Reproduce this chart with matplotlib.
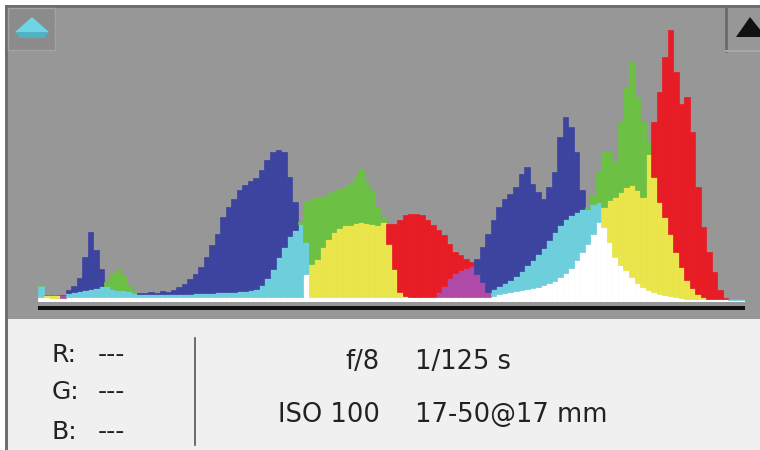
"""Camera Raw style RGB histogram panel."""

import matplotlib.pyplot as plt
import numpy as np
from matplotlib.patches import Polygon, Rectangle

# histogram bins (2 levels per bin, 0..255) and per-channel counts
levels = np.arange(0, 256, 2)

red = [5, 7, 7, 7, 7] + [5] * 43 + [
    28, 38, 43, 55, 63, 70, 74, 77, 77, 79, 80, 79, 78, 77, 80,
    78, 78, 82, 87, 88, 88, 87, 82, 77, 72, 67, 58, 50, 47, 43, 40, 28, 20, 10,
    6, 8, 9, 10, 11, 12, 13, 14, 15, 17, 19, 21, 25, 29, 34, 42, 50, 58,
    68, 80, 95, 102, 105, 110, 115, 117, 112, 105,
    148, 180, 210, 245, 272, 230, 198, 205, 170, 115,
    75, 50, 30, 12, 4, 2, 2, 2,
]
green = [16, 7, 7, 7, 4,
         9, 10, 11, 12, 13, 14, 16, 20, 28, 33, 27, 16, 10,
         8, 8, 8, 8, 8, 8,
         8, 8, 8, 8, 9, 9, 9, 9, 10, 10, 10, 10,
         11, 11, 12, 13, 17, 24, 33, 45, 55, 66, 72, 80,
         100, 103, 105, 105, 108, 110, 113, 115, 118, 125, 132, 120, 112, 95, 85,
         58, 33, 10, 6] + [5] * 15 + [
    13, 16, 19, 22, 26, 31, 37, 42, 48, 54, 62, 70, 77, 83, 87, 90, 93, 95,
    107, 130, 150, 150, 140, 180, 215, 240, 205, 180,
    160, 125, 100, 85, 68, 50, 35, 22, 14, 8,
    5, 3, 3, 3, 3, 3, 3, 3,
]
blue = [16, 5, 4, 4, 7,
        12, 16, 24, 45, 70, 52, 33, 16, 13, 12, 12, 11, 9,
        9, 9, 10, 9, 11, 10,
        12, 15, 18, 23, 28, 35, 45, 57, 68, 85, 95, 103, 112, 117, 121, 124,
        132, 142, 150, 152, 150, 125, 100, 78,
        60] + [5] * 23 + [
    10, 16, 24, 29, 32, 34, 36, 43, 55, 68,
    82, 95, 103, 108, 115, 128, 135, 118, 110, 103, 115, 130, 165, 185, 175, 150, 112, 93,
    98, 100, 75, 60, 45, 37, 32, 25, 19, 15,
    12, 10, 8, 7, 6, 5, 4, 3, 3, 3,
    3, 3, 3, 3, 3, 3, 3, 3,
]

exif_left = ["f/8", "ISO 100"]
exif_right = ["1/125 s", "17-50@17 mm"]
readout = ["R:", "G:", "B:"]

# colour for the set of channels that are "on" at a given height
MIX = {
    frozenset("R"): "#e81c25",
    frozenset("G"): "#6cc043",
    frozenset("B"): "#3c44a0",
    frozenset("RG"): "#e9e54a",
    frozenset("GB"): "#6dcfdc",
    frozenset("RB"): "#b04aa8",
    frozenset("RGB"): "#ffffff",
}
GRAY = "#979797"

fig = plt.figure(figsize=(7.6, 4.5), dpi=100)
fig.patch.set_facecolor("white")

# background / frame drawn in pixel coordinates
bg = fig.add_axes([0, 0, 1, 1])
bg.set_xlim(0, 760)
bg.set_ylim(450, 0)
bg.axis("off")
bg.add_patch(Rectangle((5, 5), 755, 445, facecolor="#6e6e6e", lw=0))
bg.add_patch(Rectangle((8, 8), 752, 311, facecolor=GRAY, lw=0))
bg.add_patch(Rectangle((8, 319), 752, 131, facecolor="#f0f0f0", lw=0))

# clipping warning boxes
bg.add_patch(Rectangle((8, 8), 47, 42, facecolor="#8b8b8b", edgecolor="#a3a3a3", lw=1))
bg.add_patch(Polygon([(32, 17), (49, 32), (15, 32)], facecolor="#6fd4e4", lw=0))
bg.add_patch(Polygon([(15, 32), (49, 32), (44, 38), (20, 38)], facecolor="#4fb3c4", lw=0))
bg.plot([726, 726], [8, 51], color="#6a6a6a", lw=2)
bg.plot([726, 760], [51, 51], color="#a8a8a8", lw=1.5)
bg.add_patch(Polygon([(736, 37), (750, 17), (766, 37)], facecolor="#111111", lw=0))

# baseline under the histogram
bg.add_patch(Rectangle((38, 306), 707, 4, facecolor="#111111", lw=0))

# text readouts
for txt, y in zip(readout, [355, 392, 432]):
    bg.text(52, y, txt, fontsize=18, color="#222222", va="center", ha="left")
    bg.text(98, y, "---", fontsize=18, color="#222222", va="center", ha="left")
bg.plot([195, 195], [338, 445], color="#555555", lw=1.2)
for txt, y in zip(exif_left, [362, 415]):
    bg.text(380, y, txt, fontsize=18.5, color="#222222", va="center", ha="right")
for txt, y in zip(exif_right, [362, 415]):
    bg.text(415, y, txt, fontsize=18.5, color="#222222", va="center", ha="left")

# composite histogram
ax = fig.add_axes([38 / 760, (450 - 302) / 450, 707 / 760, 282 / 450])
ax.set_xlim(0, 256)
ax.set_ylim(0, 282)
ax.axis("off")

vals = np.array([red, green, blue], dtype=float)
names = np.array(["R", "G", "B"])
order = np.argsort(-vals, axis=0, kind="stable")
srt = np.take_along_axis(vals, order, axis=0)
hi, mid, lo = srt[0], srt[1], srt[2]
top_col = [MIX[frozenset(names[o[0]])] for o in order.T]
pair_col = [MIX[frozenset(names[o[0]] + names[o[1]])] for o in order.T]
centers = levels + 1

ax.bar(centers, lo, width=2, color="white", edgecolor="white", lw=0.5)
ax.bar(centers, mid - lo, bottom=lo, width=2, color=pair_col, edgecolor=pair_col, lw=0.5)
ax.bar(centers, hi - mid, bottom=mid, width=2, color=top_col, edgecolor=top_col, lw=0.5)

fig.savefig("out.png", dpi=100)
plt.close(fig)
